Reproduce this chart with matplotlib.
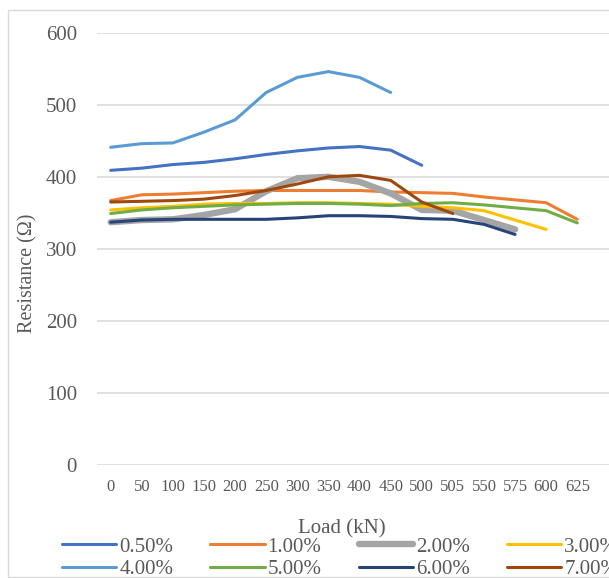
import matplotlib
matplotlib.use("Agg")
import matplotlib.pyplot as plt
from matplotlib.patches import Rectangle

plt.rcParams['font.family'] = ['Liberation Serif', 'DejaVu Serif']

# Load steps (categorical axis) and resistance per fibre content
loads = ['0', '50', '100', '150', '200', '250', '300', '350', '400', '450',
         '500', '505', '550', '575', '600', '625']

s050 = [409, 412, 417, 420, 425, 431, 436, 440, 442, 437, 416]
s100 = [367, 375, 376, 378, 380, 381, 381, 381, 381, 379, 378, 377, 372, 368, 364, 341]
s200 = [337, 340, 341, 347, 355, 380, 398, 400, 393, 377, 354, 353, 340, 327]
s300 = [354, 357, 359, 362, 363, 363, 364, 364, 363, 362, 359, 357, 353, 340, 327]
s400 = [441, 446, 447, 462, 479, 517, 538, 546, 538, 517]
s500 = [349, 354, 357, 359, 361, 362, 363, 363, 362, 360, 363, 364, 361, 357, 353, 336]
s600 = [337, 340, 341, 341, 341, 341, 343, 346, 346, 345, 342, 341, 334, 320]
s700 = [365, 366, 367, 369, 374, 381, 390, 400, 402, 395, 365, 349]

labels = ['0.50%', '1.00%', '2.00%', '3.00%', '4.00%', '5.00%', '6.00%', '7.00%']
series = [s050, s100, s200, s300, s400, s500, s600, s700]
colors = ['#4472C4', '#ED7D31', '#A5A5A5', '#FFC000',
          '#5B9BD5', '#70AD47', '#264478', '#9E480E']
widths = [2.2, 2.2, 4.6, 2.2, 2.2, 2.2, 2.2, 2.2]

W, H = 609, 578
fig = plt.figure(figsize=(W / 100, H / 100), dpi=100)

# outer chart frame
fig.patches.append(Rectangle((8 / W, 1 / H), 1.2, (577 - 10) / H,
                             transform=fig.transFigure, fill=False,
                             edgecolor='#d9d9d9', linewidth=1.0))

ax = fig.add_axes([97 / W, 1 - 465 / H, 1 - 97 / W, (465 - 32.7) / H])
ax.set_facecolor('none')

handles = []
for vals, lab, col, lw in zip(series, labels, colors, widths):
    x = list(range(len(vals)))
    h, = ax.plot(x, vals, color=col, linewidth=lw, label=lab,
                 solid_capstyle='round', solid_joinstyle='round')
    handles.append(h)

ax.set_xlim(-0.44, 16.02)
ax.set_ylim(0, 600)
ax.set_yticks(range(0, 601, 100))
ax.set_xticks(range(len(loads)))
ax.set_xticklabels(loads)

for sp in ax.spines.values():
    sp.set_visible(False)
ax.yaxis.grid(True, color='#d9d9d9', linewidth=1.1)
ax.set_axisbelow(True)
ax.tick_params(axis='y', length=0, pad=14.5, labelsize=15, labelcolor='#595959')
ax.tick_params(axis='x', length=0, pad=10, labelsize=12, labelcolor='#595959')

fig.text(28 / W, 1 - 273 / H, 'Resistance (Ω)', fontsize=14.5, color='#595959',
         rotation=90, ha='center', va='center')
fig.text(342 / W, 1 - 529 / H, 'Load (kN)', fontsize=15, color='#595959',
         ha='center', va='center')

# legend laid out row by row (matplotlib fills columns first)
order = [0, 4, 1, 5, 2, 6, 3, 7]
leg = ax.legend([handles[i] for i in order], [labels[i] for i in order],
                ncol=4, loc='upper left',
                bbox_to_anchor=(62 / W, 1 - 537 / H),
                bbox_transform=fig.transFigure, frameon=False,
                borderpad=0, borderaxespad=0, handlelength=2.6,
                handletextpad=0.15, columnspacing=1.78, labelspacing=0.16,
                prop={'size': 15})
for t in leg.get_texts():
    t.set_color('#595959')

fig.savefig('out.png', dpi=100)
